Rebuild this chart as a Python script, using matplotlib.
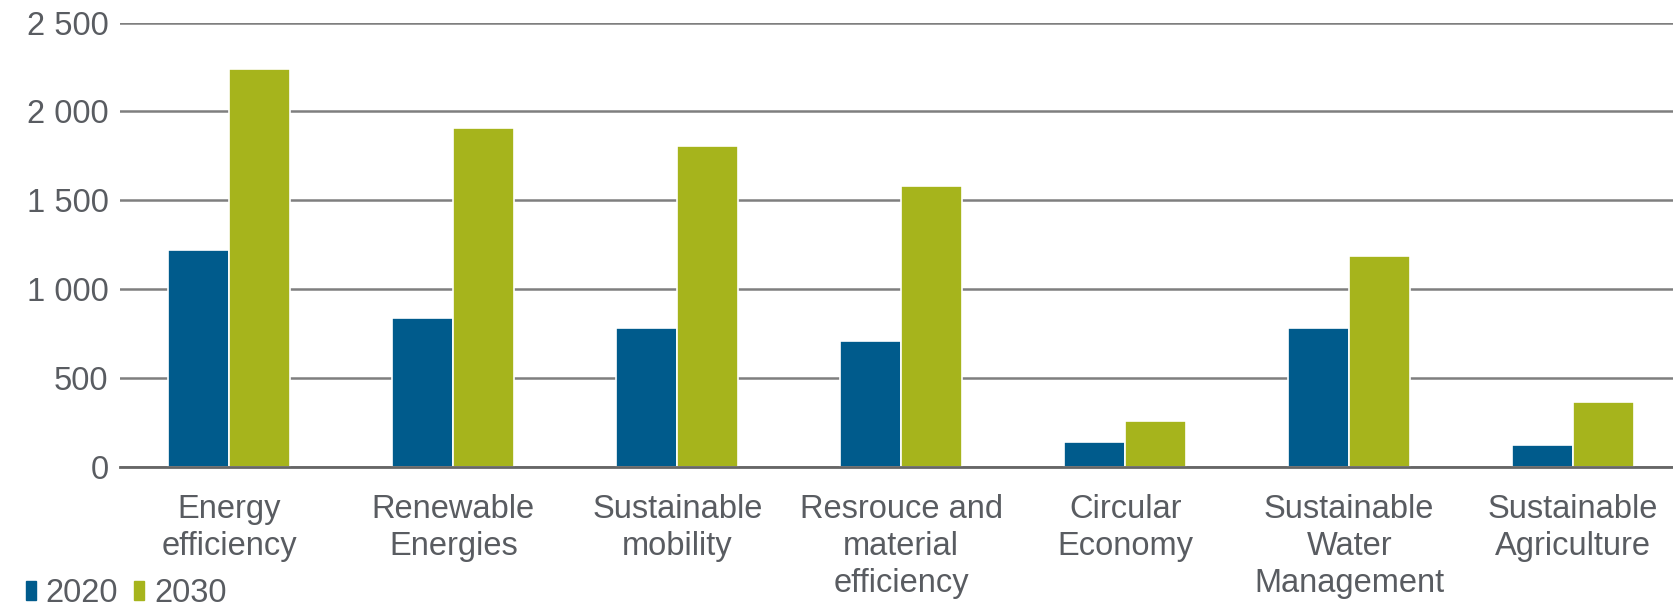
import numpy as np
import matplotlib.pyplot as plt
from matplotlib.patches import Patch
from matplotlib.ticker import FuncFormatter

categories = ["Energy\nefficiency", "Renewable\nEnergies", "Sustainable\nmobility",
              "Resrouce and\nmaterial\nefficiency", "Circular\nEconomy",
              "Sustainable\nWater\nManagement", "Sustainable\nAgriculture"]
v2020 = [1220, 835, 780, 705, 140, 780, 120]
v2030 = [2240, 1905, 1805, 1580, 255, 1185, 365]
series_names = ["2020", "2030"]

blue = "#005b8c"
green = "#a6b41c"
txt = "#595c61"

plt.rcParams['font.family'] = ['Liberation Sans', 'DejaVu Sans']

fig = plt.figure(figsize=(16.74, 6.12), dpi=100)
ax = fig.add_axes([0.0714, 0.2374, 0.9286, 0.7258])

x = np.arange(len(categories))
w = 0.272
ax.bar(x - w / 2, v2020, width=w, color=blue, edgecolor="white", linewidth=1.2, zorder=3)
ax.bar(x + w / 2, v2030, width=w, color=green, edgecolor="white", linewidth=1.2, zorder=3)

ax.set_ylim(0, 2500)
ax.set_xlim(-0.49, 6.45)
ax.set_yticks(np.arange(0, 2501, 500))
ax.yaxis.set_major_formatter(FuncFormatter(lambda v, p: f"{int(v):,}".replace(",", " ")))
ax.grid(axis="y", color="#7f7f7f", linewidth=1.8, zorder=0)
ax.set_axisbelow(True)

for s in ["top", "right", "left"]:
    ax.spines[s].set_visible(False)
ax.spines["bottom"].set_color("#666666")
ax.spines["bottom"].set_linewidth(2)
ax.spines["bottom"].set_zorder(4)

ax.set_xticks(x)
ax.set_xticklabels(categories, linespacing=1.25)
ax.tick_params(axis="x", length=0, pad=20, labelsize=23.5, labelcolor=txt)
ax.tick_params(axis="y", length=0, pad=8, labelsize=23.5, labelcolor=txt)

handles = [Patch(color=blue), Patch(color=green)]
fig.legend(handles, series_names, loc="lower left", bbox_to_anchor=(-0.002, -0.043),
           ncol=2, frameon=False, fontsize=23.5, labelcolor=txt,
           handlelength=0.3, handleheight=0.5, handletextpad=0.3, columnspacing=0.5)

fig.savefig("out.png", dpi=100)
